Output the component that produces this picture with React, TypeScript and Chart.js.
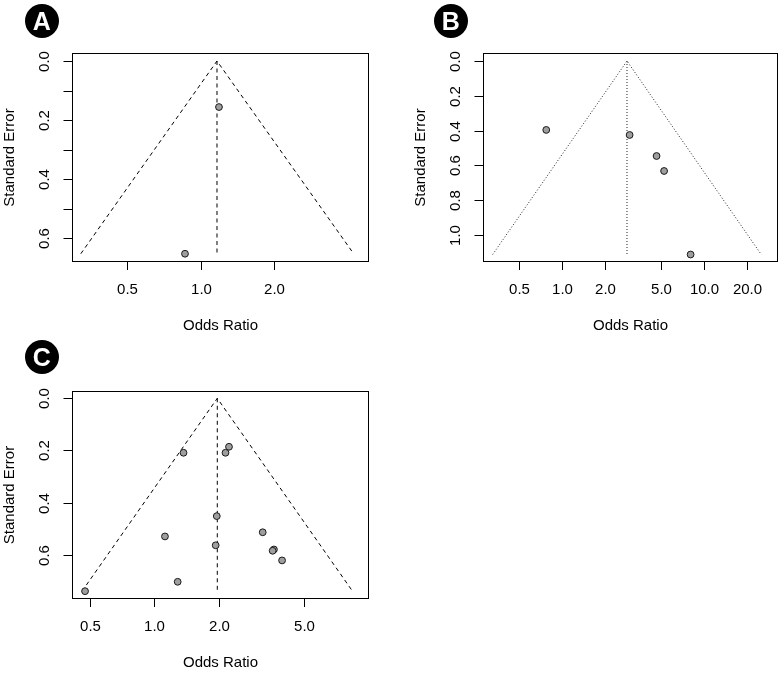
import React, { useEffect, useRef } from "react";
import { Chart, registerables } from "chart.js";

Chart.register(...registerables);

const FONT = '"Liberation Sans", Arial, Helvetica, sans-serif';

// ---------- Panel A ----------
const aOddsRatio = [1.185, 0.86];
const aStdError = [0.156, 0.653];
const aPooledOR = 1.163;
const aSeMax = 0.653;
const aFunnelLow = 0.322;
const aFunnelHigh = 4.22;
const aXTicks = [0.5, 1, 2];
const aXLabels = ["0.5", "1.0", "2.0"];
const aYTicks = [0, 0.1, 0.2, 0.3, 0.4, 0.5, 0.6];
const aYLabels = ["0.0", "", "0.2", "", "0.4", "", "0.6"];
const aXRange = [0.2963, 4.877];
const aYRange = [-0.0271, 0.681];

// ---------- Panel B ----------
const bOddsRatio = [0.773, 2.99, 4.63, 5.23, 8.04];
const bStdError = [0.396, 0.425, 0.546, 0.632, 1.112];
const bPooledOR = 2.865;
const bSeMax = 1.112;
const bFunnelLow = 0.324;
const bFunnelHigh = 25.3;
const bXTicks = [0.5, 1, 2, 5, 10, 20];
const bXLabels = ["0.5", "1.0", "2.0", "5.0", "10.0", "20.0"];
const bYTicks = [0, 0.2, 0.4, 0.6, 0.8, 1.0];
const bYLabels = ["0.0", "0.2", "0.4", "0.6", "0.8", "1.0"];
const bXRange = [0.277, 33.2];
const bYRange = [-0.046, 1.155];

// ---------- Panel C ----------
const cOddsRatio = [0.474, 1.283, 1.119, 1.366, 1.953, 1.93, 2.145, 2.227, 3.2, 3.61, 3.56, 3.94];
const cStdError = [0.74, 0.704, 0.53, 0.209, 0.452, 0.564, 0.209, 0.186, 0.514, 0.58, 0.585, 0.622];
const cPooledOR = 1.964;
const cSeMax = 0.74;
const cFunnelLow = 0.459;
const cFunnelHigh = 8.4;
const cXTicks = [0.5, 1, 2, 5];
const cXLabels = ["0.5", "1.0", "2.0", "5.0"];
const cYTicks = [0, 0.2, 0.4, 0.6];
const cYLabels = ["0.0", "0.2", "0.4", "0.6"];
const cXRange = [0.412, 10.03];
const cYRange = [-0.028, 0.77];

type PanelCfg = {
  letter: string;
  or: number[];
  se: number[];
  pooled: number;
  seMax: number;
  low: number;
  high: number;
  xTicks: number[];
  xLabels: string[];
  yTicks: number[];
  yLabels: string[];
  xRange: number[];
  yRange: number[];
  dash: number[];
  lineColor: string;
  left: number;
  top: number;
  width: number;
  height: number;
  pad: { left: number; top: number; right: number; bottom: number };
  badge: { x: number; y: number };
};

const panels: PanelCfg[] = [
  {
    letter: "A", or: aOddsRatio, se: aStdError, pooled: aPooledOR, seMax: aSeMax,
    low: aFunnelLow, high: aFunnelHigh, xTicks: aXTicks, xLabels: aXLabels,
    yTicks: aYTicks, yLabels: aYLabels, xRange: aXRange, yRange: aYRange,
    dash: [4, 3.5], lineColor: "#000",
    left: 0, top: 0, width: 392, height: 336,
    pad: { left: 72, top: 53, right: 23, bottom: 74 },
    badge: { x: 41.7, y: 20.5 },
  },
  {
    letter: "B", or: bOddsRatio, se: bStdError, pooled: bPooledOR, seMax: bSeMax,
    low: bFunnelLow, high: bFunnelHigh, xTicks: bXTicks, xLabels: bXLabels,
    yTicks: bYTicks, yLabels: bYLabels, xRange: bXRange, yRange: bYRange,
    dash: [1, 2], lineColor: "#222",
    left: 392, top: 0, width: 391, height: 336,
    pad: { left: 91, top: 53, right: 3, bottom: 74 },
    badge: { x: 58.8, y: 20.5 },
  },
  {
    letter: "C", or: cOddsRatio, se: cStdError, pooled: cPooledOR, seMax: cSeMax,
    low: cFunnelLow, high: cFunnelHigh, xTicks: cXTicks, xLabels: cXLabels,
    yTicks: cYTicks, yLabels: cYLabels, xRange: cXRange, yRange: cYRange,
    dash: [4, 3.5], lineColor: "#000",
    left: 0, top: 336, width: 392, height: 337,
    pad: { left: 72, top: 55, right: 23, bottom: 74 },
    badge: { x: 41.7, y: 20.5 },
  },
];

function makeAxesPlugin(cfg: PanelCfg) {
  return {
    id: "rAxes",
    afterDatasetsDraw(chart: any) {
      const { ctx, chartArea } = chart;
      const { left, top, right, bottom } = chartArea;
      const xs = chart.scales.x;
      const ys = chart.scales.y;
      ctx.save();
      ctx.strokeStyle = "#000";
      ctx.lineWidth = 1;
      ctx.setLineDash([]);
      const L = Math.round(left) + 0.5;
      const T = Math.round(top) + 0.5;
      const R = Math.round(right) - 0.5;
      const B = Math.round(bottom) - 0.5;
      ctx.strokeRect(L, T, R - L, B - T);

      ctx.fillStyle = "#000";
      ctx.font = `15px ${FONT}`;
      ctx.textAlign = "center";
      ctx.textBaseline = "middle";

      cfg.xTicks.forEach((v, i) => {
        const px = Math.round(xs.getPixelForValue(v)) + 0.5;
        ctx.beginPath();
        ctx.moveTo(px, B);
        ctx.lineTo(px, B + 8.5);
        ctx.stroke();
        ctx.fillText(cfg.xLabels[i], px, B + 28);
      });

      cfg.yTicks.forEach((v, i) => {
        const py = Math.round(ys.getPixelForValue(v)) + 0.5;
        ctx.beginPath();
        ctx.moveTo(L - 9, py);
        ctx.lineTo(L, py);
        ctx.stroke();
        const lab = cfg.yLabels[i];
        if (lab) {
          ctx.save();
          ctx.translate(L - 28, py);
          ctx.rotate(-Math.PI / 2);
          ctx.fillText(lab, 0, 0);
          ctx.restore();
        }
      });

      ctx.fillText("Odds Ratio", (left + right) / 2, B + 64.5);
      ctx.save();
      ctx.translate(L - 63, (top + bottom) / 2);
      ctx.rotate(-Math.PI / 2);
      ctx.fillText("Standard Error", 0, 0);
      ctx.restore();

      ctx.restore();
    },
  };
}

function FunnelPanel({ cfg }: { cfg: PanelCfg }) {
  const ref = useRef<HTMLCanvasElement>(null);
  useEffect(() => {
    if (!ref.current) return;
    const points = cfg.or.map((x, i) => ({ x, y: cfg.se[i] }));
    const funnel = [
      { x: cfg.low, y: cfg.seMax },
      { x: cfg.pooled, y: 0 },
      { x: cfg.high, y: cfg.seMax },
    ];
    const center = [
      { x: cfg.pooled, y: 0 },
      { x: cfg.pooled, y: cfg.seMax },
    ];
    const chart = new Chart(ref.current, {
      type: "scatter",
      data: {
        datasets: [
          {
            data: points,
            showLine: false,
            pointRadius: 3.4,
            pointBackgroundColor: "#9e9e9e",
            pointBorderColor: "#1a1a1a",
            pointBorderWidth: 1,
            order: 0,
          } as any,
          {
            data: funnel,
            showLine: true,
            borderColor: cfg.lineColor,
            borderWidth: 1,
            borderDash: cfg.dash,
            pointRadius: 0,
            tension: 0,
            fill: false,
            order: 1,
          } as any,
          {
            data: center,
            showLine: true,
            borderColor: cfg.lineColor,
            borderWidth: 1,
            borderDash: cfg.dash,
            pointRadius: 0,
            fill: false,
            order: 2,
          } as any,
        ],
      },
      options: {
        responsive: false,
        animation: false,
        events: [],
        layout: { padding: cfg.pad },
        plugins: { legend: { display: false }, tooltip: { enabled: false } },
        scales: {
          x: {
            type: "logarithmic",
            min: cfg.xRange[0],
            max: cfg.xRange[1],
            bounds: "data",
            display: false,
          },
          y: {
            type: "linear",
            reverse: true,
            min: cfg.yRange[0],
            max: cfg.yRange[1],
            bounds: "data",
            display: false,
          },
        },
      } as any,
      plugins: [makeAxesPlugin(cfg)],
    });
    return () => chart.destroy();
  }, [cfg]);

  return (
    <div
      style={{
        position: "absolute",
        left: cfg.left,
        top: cfg.top,
        width: cfg.width,
        height: cfg.height,
      }}
    >
      <canvas
        ref={ref}
        width={cfg.width}
        height={cfg.height}
        style={{ position: "absolute", left: 0, top: 0, width: cfg.width, height: cfg.height }}
      />
      <div
        style={{
          position: "absolute",
          left: cfg.badge.x - 17,
          top: cfg.badge.y - 17,
          width: 34,
          height: 34,
          borderRadius: "50%",
          background: "#000",
          color: "#fff",
          fontFamily: FONT,
          fontWeight: "bold",
          fontSize: 25,
          lineHeight: "34px",
          textAlign: "center",
        }}
      >
        {cfg.letter}
      </div>
    </div>
  );
}

export default function App() {
  return (
    <div
      style={{
        position: "absolute",
        left: 0,
        top: 0,
        width: 783,
        height: 673,
        background: "#fff",
        overflow: "hidden",
      }}
    >
      {panels.map((p) => (
        <FunnelPanel key={p.letter} cfg={p} />
      ))}
    </div>
  );
}
